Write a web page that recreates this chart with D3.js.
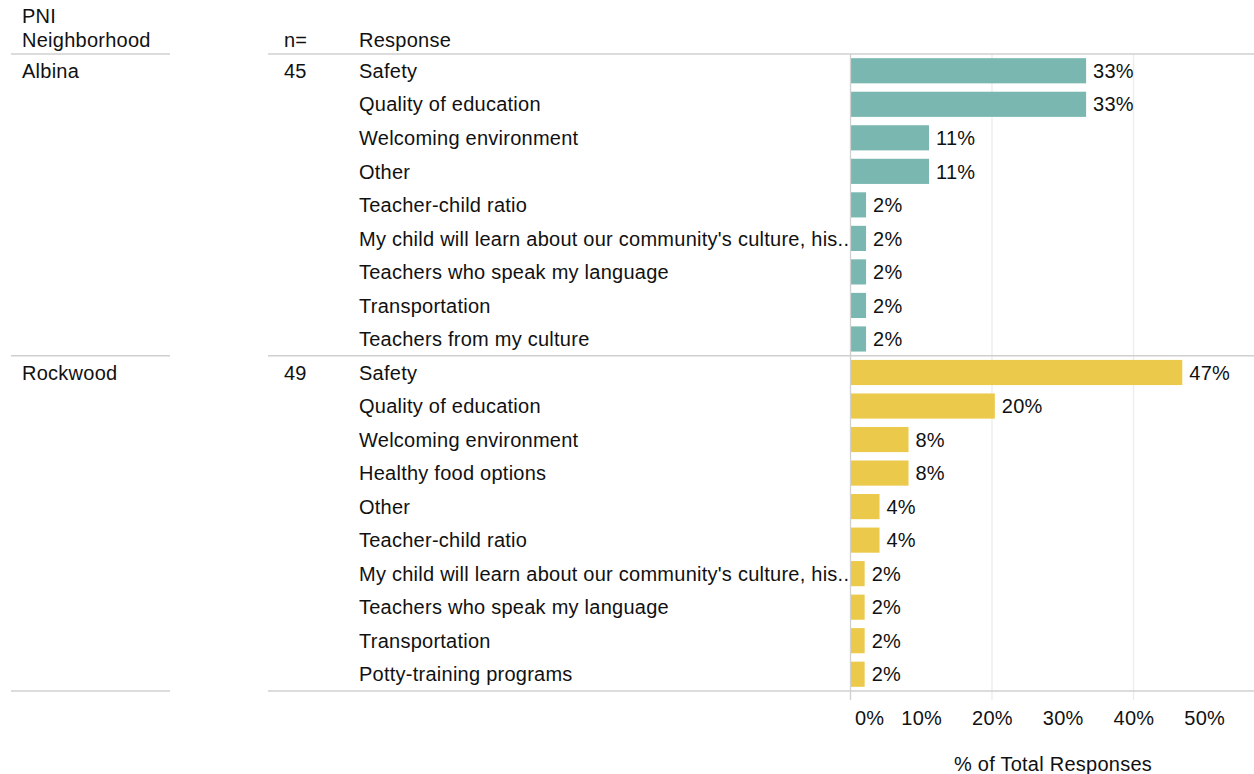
<!DOCTYPE html>
<html>
<head>
<meta charset="utf-8">
<script src="https://cdn.jsdelivr.net/npm/d3@7"></script>
<style>
  html, body { margin: 0; padding: 0; background: #fff; }
  svg { display: block; font-family: "Liberation Sans", Arial, sans-serif; letter-spacing: 0.25px; }
</style>
</head>
<body>
<svg id="chart" width="1254" height="774"></svg>
<script>
// Neighborhood groups, their respondent counts and responses
const neighborhoods = ["Albina", "Rockwood"];
const respondents = [45, 49];

const albinaResponses = [
  "Safety", "Quality of education", "Welcoming environment", "Other",
  "Teacher-child ratio",
  "My child will learn about our community's culture, his..",
  "Teachers who speak my language", "Transportation", "Teachers from my culture"
];
const albinaShare = [33.3, 33.3, 11.1, 11.1, 2.2, 2.2, 2.2, 2.2, 2.2];

const rockwoodResponses = [
  "Safety", "Quality of education", "Welcoming environment", "Healthy food options",
  "Other", "Teacher-child ratio",
  "My child will learn about our community's culture, his..",
  "Teachers who speak my language", "Transportation", "Potty-training programs"
];
const rockwoodShare = [46.9, 20.4, 8.2, 8.2, 4.1, 4.1, 2.0, 2.0, 2.0, 2.0];

const tickValues = [0, 10, 20, 30, 40, 50];
const groupColors = ["#79b7b0", "#ebc94a"];

const groups = [
  { name: neighborhoods[0], n: respondents[0], responses: albinaResponses, values: albinaShare, color: groupColors[0] },
  { name: neighborhoods[1], n: respondents[1], responses: rockwoodResponses, values: rockwoodShare, color: groupColors[1] }
];

const rows = [];
groups.forEach((g, gi) => {
  g.responses.forEach((r, i) => rows.push({ key: gi + "|" + i, group: g, gi, idx: i, response: r, value: g.values[i] }));
});

const svg = d3.select("#chart");
const fontSize = 20;
const plotTop = 54, plotBottom = 691;
const x0 = 850.5;

const y = d3.scaleBand()
  .domain(rows.map(d => d.key))
  .range([plotTop, plotBottom])
  .paddingInner(0.25)
  .paddingOuter(0.125);

const x = d3.scaleLinear().domain([0, 20]).range([x0, 992]);

const lineColor = "#d0d0d0";
const gridColor = "#ececec";

// gridlines
svg.append("g").selectAll("line")
  .data([20, 40])
  .join("line")
  .attr("x1", d => x(d)).attr("x2", d => x(d))
  .attr("y1", plotTop).attr("y2", plotBottom + 9)
  .attr("stroke", gridColor).attr("stroke-width", 1.3);

// bars
svg.append("g").selectAll("rect")
  .data(rows)
  .join("rect")
  .attr("x", x(0))
  .attr("y", d => y(d.key))
  .attr("width", d => x(d.value) - x(0))
  .attr("height", y.bandwidth())
  .attr("fill", d => d.group.color);

// value labels
svg.append("g").selectAll("text")
  .data(rows)
  .join("text")
  .attr("x", d => x(d.value) + 7)
  .attr("y", d => y(d.key) + y.bandwidth() / 2)
  .attr("dy", "0.36em")
  .attr("font-size", fontSize)
  .attr("fill", "#111")
  .text(d => Math.round(d.value) + "%");

// response labels
svg.append("g").selectAll("text")
  .data(rows)
  .join("text")
  .attr("x", 359)
  .attr("y", d => y(d.key) + y.bandwidth() / 2)
  .attr("dy", "0.36em")
  .attr("font-size", fontSize)
  .attr("fill", "#111")
  .text(d => d.response);

// neighborhood and n= labels on each group's first row
const firstRows = rows.filter(d => d.idx === 0);
svg.append("g").selectAll("text.name")
  .data(firstRows)
  .join("text")
  .attr("x", 22)
  .attr("y", d => y(d.key) + y.bandwidth() / 2)
  .attr("dy", "0.36em")
  .attr("font-size", fontSize)
  .attr("fill", "#111")
  .text(d => d.group.name);
svg.append("g").selectAll("text.n")
  .data(firstRows)
  .join("text")
  .attr("x", 284)
  .attr("y", d => y(d.key) + y.bandwidth() / 2)
  .attr("dy", "0.36em")
  .attr("font-size", fontSize)
  .attr("fill", "#111")
  .text(d => d.group.n);

// horizontal separators: header, between groups, bottom
const sepY = [plotTop];
groups.forEach((g, gi) => {
  const last = rows.filter(d => d.gi === gi).slice(-1)[0];
  sepY.push(y(last.key) + y.bandwidth() + y.step() * 0.125);
});
const seps = svg.append("g");
sepY.forEach(yy => {
  seps.append("line").attr("x1", 11).attr("x2", 170).attr("y1", yy).attr("y2", yy)
    .attr("stroke", lineColor).attr("stroke-width", 1.5);
  seps.append("line").attr("x1", 268).attr("x2", 1254).attr("y1", yy).attr("y2", yy)
    .attr("stroke", lineColor).attr("stroke-width", 1.5);
});

// zero line
svg.append("line")
  .attr("x1", x(0)).attr("x2", x(0))
  .attr("y1", plotTop).attr("y2", plotBottom + 9)
  .attr("stroke", lineColor).attr("stroke-width", 1.3);

// column headers
const hdr = svg.append("g").attr("font-size", fontSize).attr("fill", "#111");
hdr.append("text").attr("x", 22).attr("y", 23).text("PNI");
hdr.append("text").attr("x", 22).attr("y", 47).text("Neighborhood");
hdr.append("text").attr("x", 284).attr("y", 47).text("n=");
hdr.append("text").attr("x", 359).attr("y", 47).text("Response");

// x axis
const axis = d3.axisBottom(x).tickValues(tickValues).tickSize(0).tickFormat(d => d + "%");
const ax = svg.append("g").attr("transform", `translate(0,${plotBottom + 17})`).call(axis);
ax.select(".domain").remove();
ax.selectAll("text")
  .attr("font-size", fontSize)
  .attr("font-family", "Liberation Sans, Arial, sans-serif")
  .attr("fill", "#111")
  .attr("dy", "0.71em");
// keep the 0% label inside the pane
ax.selectAll(".tick").filter(d => d === 0).select("text")
  .attr("text-anchor", "start").attr("dx", 4);

svg.append("text")
  .attr("x", 1053).attr("y", 771)
  .attr("text-anchor", "middle")
  .attr("font-size", fontSize)
  .attr("fill", "#111")
  .text("% of Total Responses");
</script>
</body>
</html>
